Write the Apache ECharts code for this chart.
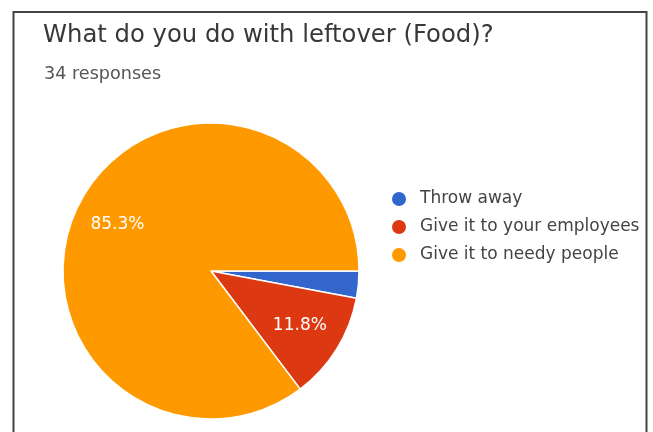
<!DOCTYPE html>
<html>
<head>
<meta charset="utf-8">
<script src="https://cdn.jsdelivr.net/npm/echarts@6/dist/echarts.min.js"></script>
<style>
html,body{margin:0;padding:0;background:#fff;}
#chart{width:653px;height:432px;}
</style>
</head>
<body>
<div id="chart"></div>
<script>
const titleText = 'What do you do with leftover (Food)?';
const subtitleText = '34 responses';
const categories = ['Throw away', 'Give it to your employees', 'Give it to needy people'];
const responses = [1, 4, 29];
const colors = ['#3366cc', '#dc3912', '#ff9900'];
const showLabel = [false, true, true];

const FONT = 'DejaVu Sans';

const mainData = categories.map((name, i) => ({
  name: name,
  value: responses[i],
  itemStyle: { color: colors[i] }
}));
const labelData = categories.map((name, i) => ({
  name: name,
  value: responses[i],
  label: { show: showLabel[i] }
}));

const chart = echarts.init(document.getElementById('chart'));
chart.setOption({
  animation: false,
  backgroundColor: '#ffffff',
  title: [
    {
      text: titleText,
      left: 43, top: 24, padding: 0,
      textStyle: { fontFamily: FONT, fontSize: 24.3, fontWeight: 'normal', color: '#383838' }
    },
    {
      text: subtitleText,
      left: 44, top: 65, padding: 0,
      textStyle: { fontFamily: FONT, fontSize: 17.6, fontWeight: 'normal', color: '#555555' }
    }
  ],
  legend: {
    orient: 'vertical',
    left: 390, top: 189,
    padding: 0,
    icon: 'circle',
    itemWidth: 16, itemHeight: 16,
    itemGap: 8,
    data: categories,
    textStyle: { fontFamily: FONT, fontSize: 17, color: '#444444', lineHeight: 20, padding: [0, 0, 0, 8] }
  },
  graphic: [{
    type: 'rect',
    silent: true,
    shape: { x: 13.5, y: 12, width: 633, height: 470 },
    style: { fill: 'none', stroke: '#444444', lineWidth: 2 }
  }],
  series: [
    {
      type: 'pie',
      center: [211, 271],
      radius: [0, 148],
      startAngle: 0,
      clockwise: true,
      silent: true,
      label: { show: false },
      labelLine: { show: false },
      itemStyle: { borderColor: '#ffffff', borderWidth: 1.5 },
      data: mainData
    },
    {
      type: 'pie',
      center: [211, 271],
      radius: [55, 148],
      startAngle: 0,
      clockwise: true,
      silent: true,
      z: 5,
      itemStyle: { color: 'rgba(0,0,0,0)', borderWidth: 0 },
      label: {
        show: true,
        position: 'inside',
        formatter: function (p) { return p.percent.toFixed(1) + '%'; },
        fontFamily: FONT, fontSize: 17, color: '#ffffff'
      },
      labelLine: { show: false },
      emphasis: { disabled: true },
      data: labelData
    }
  ]
});
</script>
</body>
</html>
